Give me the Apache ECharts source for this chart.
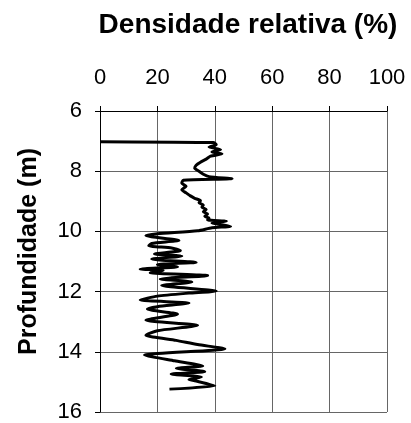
<!DOCTYPE html>
<html>
<head>
<meta charset="utf-8">
<script src="https://cdn.jsdelivr.net/npm/echarts@6/dist/echarts.min.js"></script>
<style>
  html, body { margin: 0; padding: 0; background: #fff; }
  #chart { width: 411px; height: 423px; }
</style>
</head>
<body>
<div id="chart"></div>
<script>
// Relative density profile against depth (CPT-style log)
const depthM = [
  7.02, 7.05, 7.12, 7.20, 7.28, 7.36, 7.42, 7.50, 7.60, 7.70, 7.80, 7.90, 8.00, 8.10, 8.18, 8.25,
  8.30, 8.40, 8.50, 8.62, 8.72, 8.82, 8.90, 8.98, 9.05, 9.12, 9.20, 9.27, 9.35, 9.42, 9.50, 9.56,
  9.62, 9.66, 9.72, 9.77, 9.83, 9.88, 9.98, 10.08, 10.14, 10.30, 10.40, 10.48, 10.55, 10.64, 10.75,
  10.82, 10.92, 11.03, 11.10, 11.18, 11.25, 11.30, 11.37, 11.47, 11.58, 11.68, 11.80, 11.98, 12.05,
  12.15, 12.28, 12.38, 12.50, 12.58, 12.75, 12.95, 13.12, 13.30, 13.45, 13.62, 13.76, 13.90, 14.11,
  14.30, 14.47, 14.55, 14.66, 14.74, 14.84, 14.92, 14.96, 15.13, 15.24
];
const densityPct = [
  0, 39.5, 40.5, 38, 42, 39, 42.5, 38.5, 37, 35, 33.5, 33, 34.5, 36, 38, 46,
  29, 28.5, 30, 28.5, 30, 31.5, 33, 35, 34.5, 36, 35.5, 37, 36, 37.5, 36.5, 38,
  37.5, 44, 39, 42, 45.5, 39, 34, 20, 16, 27.5, 18, 17, 25, 28, 19,
  28.5, 18, 33.5, 20, 27, 14, 22, 17.5, 37.5, 21, 32, 21.5, 40.5, 31,
  20, 14, 31, 20, 16.5, 27, 16, 34, 20, 16, 26.5, 34, 43.5, 15.5,
  26, 35.8, 26.6, 36.5, 24.8, 35.3, 31, 33, 40, 24.2
];
const xTicks = [0, 20, 40, 60, 80, 100];
const yTicks = [6, 8, 10, 12, 14, 16];

const profile = depthM.map((d, i) => [densityPct[i], d]);

const chart = echarts.init(document.getElementById('chart'), null, { renderer: 'canvas' });
const font = 'Liberation Sans, Arial, sans-serif';

chart.setOption({
  animation: false,
  backgroundColor: '#ffffff',
  title: {
    text: 'Densidade relativa (%)',
    left: 248,
    top: 11,
    textAlign: 'center',
    padding: 0,
    textStyle: { fontFamily: font, fontSize: 28, fontWeight: 'bold', color: '#000' }
  },
  grid: { left: 100, right: 24, top: 111, bottom: 10, containLabel: false },
  xAxis: {
    type: 'value',
    position: 'top',
    min: xTicks[0],
    max: xTicks[xTicks.length - 1],
    interval: xTicks[1] - xTicks[0],
    axisLine: { show: true, lineStyle: { color: '#000', width: 1 } },
    axisTick: { show: true, length: 5, lineStyle: { color: '#000' } },
    axisLabel: { margin: 22, fontFamily: font, fontSize: 22, color: '#000' },
    splitLine: { show: true, lineStyle: { color: '#666', width: 1 } }
  },
  yAxis: {
    type: 'value',
    inverse: true,
    min: yTicks[0],
    max: yTicks[yTicks.length - 1],
    interval: yTicks[1] - yTicks[0],
    name: 'Profundidade (m)',
    nameLocation: 'middle',
    nameGap: 58,
    nameTextStyle: { fontFamily: font, fontSize: 25, fontWeight: 'bold', color: '#000', padding: [0, 0, 0, 20] },
    axisLine: { show: true, lineStyle: { color: '#000', width: 1 } },
    axisTick: { show: true, length: 5, lineStyle: { color: '#000' } },
    axisLabel: { margin: 18, fontFamily: font, fontSize: 22, color: '#000' },
    splitLine: { show: true, lineStyle: { color: '#666', width: 1 } }
  },
  series: [{
    type: 'line',
    data: profile,
    showSymbol: false,
    smooth: 0.2,
    lineStyle: { color: '#000', width: 3 },
    clip: true
  }]
});
</script>
</body>
</html>
